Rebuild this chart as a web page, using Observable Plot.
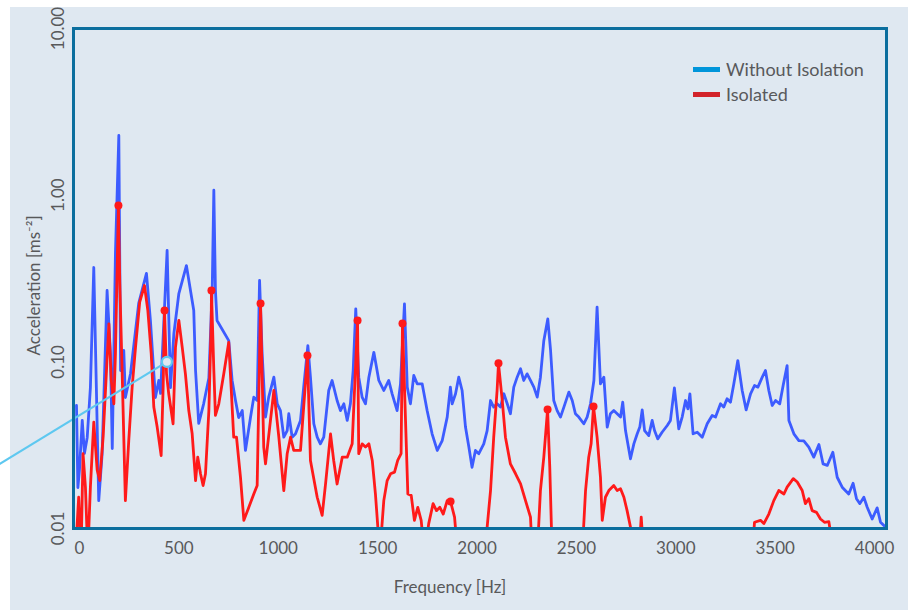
<!DOCTYPE html>
<html>
<head>
<meta charset="utf-8">
<script src="https://cdn.jsdelivr.net/npm/d3@7"></script>
<script src="https://cdn.jsdelivr.net/npm/@observablehq/plot@0.6"></script>
<style>
  html, body { margin: 0; padding: 0; background: #ffffff; }
  #wrap { position: relative; width: 908px; height: 610px; overflow: hidden; }
  #bg { position: absolute; left: 10px; top: 7px; width: 898px; height: 603px; background: #dfe8f1; }
  #chart { position: absolute; left: 0; top: 0; }
  #legend { position: absolute; left: 693px; top: 57px; font-family: Lato, "Open Sans", sans-serif; font-size: 18px; color: #58595b; line-height: 25px; }
  #legend .row { display: flex; align-items: center; }
  #legend .sw { width: 27px; height: 5px; margin-right: 6px; }
</style>
</head>
<body>
<div id="wrap">
  <div id="bg"></div>
  <div id="chart"></div>
  <div id="legend">
    <div class="row"><span class="sw" style="background:#0095da"></span><span>Without Isolation</span></div>
    <div class="row"><span class="sw" style="background:#d2232a"></span><span>Isolated</span></div>
  </div>
</div>
<script>
// ---- Data (frequency in Hz, acceleration in m/s^2) ----
const blueFreq = [-15,-8,0,14,25,39,55,72,85,97,114,139,156,165,181,198,207,223,231,257,298,337,357,382,399,408,441,458,475,500,538,575,584,600,625,651,668,676,684,692,751,768,785,801,819,835,860,877,894,906,919,936,952,978,995,1011,1028,1045,1053,1070,1087,1112,1128,1149,1162,1179,1196,1212,1229,1254,1271,1296,1313,1330,1347,1363,1377,1390,1405,1422,1439,1456,1481,1506,1531,1556,1573,1598,1615,1635,1649,1665,1682,1699,1724,1749,1774,1800,1825,1850,1866,1875,1892,1908,1925,1942,1959,1975,1992,2009,2034,2051,2068,2084,2101,2118,2135,2152,2168,2185,2202,2219,2235,2252,2269,2286,2303,2319,2336,2356,2370,2386,2403,2420,2437,2462,2479,2495,2512,2537,2554,2571,2588,2604,2621,2638,2655,2671,2688,2705,2722,2733,2747,2772,2789,2806,2819,2831,2843,2864,2881,2893,2909,2931,2957,2973,2993,3015,3032,3049,3061,3071,3087,3108,3133,3158,3183,3200,3225,3241,3258,3275,3292,3312,3334,3354,3376,3396,3413,3435,3451,3468,3485,3502,3523,3540,3560,3569,3594,3619,3644,3669,3694,3720,3741,3762,3790,3812,3837,3870,3892,3909,3926,3946,3963,3988,4013,4030,4055];
const blueAcc = [0.0547,0.0176,0.0225,0.0445,0.0282,0.0352,0.07,0.368,0.07,0.0147,0.028,0.268,0.112,0.0302,0.447,2.28,0.0887,0.117,0.0611,0.0851,0.224,0.339,0.177,0.0611,0.0773,0.0646,0.466,0.07,0.148,0.257,0.378,0.203,0.0887,0.0427,0.0562,0.08,0.279,1.07,0.268,0.177,0.134,0.0773,0.0586,0.0463,0.051,0.0294,0.046,0.0614,0.0586,0.308,0.112,0.0466,0.0614,0.0809,0.056,0.051,0.0353,0.0387,0.0488,0.0353,0.037,0.0445,0.0705,0.125,0.0809,0.0425,0.0353,0.0322,0.0353,0.0673,0.0773,0.0586,0.051,0.056,0.0445,0.056,0.0887,0.208,0.0809,0.0614,0.056,0.0809,0.114,0.0773,0.0673,0.0773,0.0643,0.051,0.0738,0.223,0.0705,0.056,0.0828,0.0738,0.0738,0.051,0.037,0.0294,0.0337,0.0466,0.0705,0.056,0.0643,0.0809,0.0673,0.0406,0.0308,0.0233,0.0294,0.0281,0.0322,0.0387,0.0586,0.0535,0.056,0.0535,0.0643,0.056,0.0488,0.0705,0.0809,0.0908,0.0773,0.0847,0.0773,0.0705,0.0614,0.0809,0.134,0.181,0.117,0.0586,0.051,0.0466,0.0535,0.0658,0.0586,0.0488,0.0466,0.0425,0.0466,0.056,0.0773,0.213,0.0738,0.0809,0.0406,0.0488,0.051,0.0488,0.0466,0.0573,0.0387,0.0262,0.0322,0.037,0.0406,0.0515,0.0387,0.0361,0.0445,0.0387,0.0345,0.0378,0.0415,0.0445,0.0698,0.0396,0.0466,0.0586,0.0522,0.0643,0.037,0.0378,0.0353,0.0425,0.0477,0.0466,0.056,0.0535,0.06,0.0573,0.0738,0.1018,0.0673,0.0515,0.0643,0.0721,0.0705,0.0809,0.0887,0.0673,0.0547,0.0586,0.056,0.0721,0.095,0.0445,0.037,0.0337,0.0336,0.0308,0.0268,0.0319,0.0244,0.0239,0.0287,0.0203,0.0177,0.0161,0.0187,0.0151,0.0141,0.0154,0.0134,0.0114,0.0133,0.0109,0.0102];

const redFreq = [-20,-4,8,18,30,42,55,72,89,102,119,136,148,160,173,181,196,203,215,231,248,265,282,303,327,344,361,374,391,411,421,428,438,449,471,483,500,517,533,550,567,584,595,609,622,634,651,663,664,676,684,701,726,751,763,776,790,810,827,852,877,894,911,927,936,978,1003,1028,1045,1062,1078,1112,1147,1162,1196,1221,1238,1263,1279,1296,1322,1347,1372,1399,1405,1422,1439,1456,1473,1489,1511,1531,1548,1565,1585,1601,1618,1625,1652,1669,1685,1702,1719,1736,1757,1779,1796,1813,1830,1850,1867,1887,1903,2040,2051,2068,2084,2101,2108,2127,2143,2168,2194,2219,2244,2269,2278,2303,2319,2336,2355,2366,2378,2529,2546,2562,2574,2586,2604,2621,2630,2646,2663,2688,2705,2722,2739,2755,2772,2780,2815,2826,2839,3384,3396,3426,3443,3468,3493,3518,3544,3560,3591,3611,3636,3652,3669,3686,3708,3728,3748,3770,3795,4060];
const redAcc = [0.007,0.0154,0.007,0.0281,0.0177,0.007,0.0177,0.0434,0.0225,0.0194,0.0353,0.0887,0.169,0.0773,0.056,0.112,0.867,0.294,0.0847,0.0147,0.0337,0.0705,0.122,0.228,0.287,0.203,0.112,0.0535,0.0406,0.0274,0.0705,0.203,0.0847,0.0643,0.0425,0.122,0.177,0.122,0.0847,0.051,0.037,0.0194,0.0268,0.0213,0.0181,0.0213,0.051,0.177,0.268,0.0887,0.0477,0.056,0.0847,0.131,0.0705,0.0353,0.0353,0.0203,0.0112,0.0134,0.0161,0.0181,0.224,0.0308,0.0244,0.0673,0.0353,0.0169,0.0281,0.0353,0.0294,0.0294,0.109,0.0256,0.0154,0.012,0.0185,0.037,0.0256,0.0185,0.0268,0.0268,0.0322,0.177,0.0281,0.0322,0.0308,0.0322,0.0256,0.0161,0.007,0.0147,0.0194,0.0213,0.0218,0.0256,0.0281,0.170,0.0161,0.0158,0.0112,0.0134,0.0112,0.007,0.0107,0.0141,0.0128,0.0134,0.0122,0.0147,0.0145,0.0117,0.007,0.007,0.0102,0.0169,0.0353,0.0673,0.098,0.0586,0.0353,0.0244,0.0213,0.0185,0.0147,0.0117,0.007,0.007,0.0169,0.0268,0.0518,0.0233,0.007,0.007,0.0169,0.0268,0.0322,0.054,0.0353,0.0203,0.0112,0.0154,0.0169,0.0181,0.0169,0.0173,0.0154,0.0128,0.0102,0.007,0.007,0.0117,0.007,0.007,0.0109,0.0112,0.0107,0.0122,0.0147,0.0169,0.0161,0.0177,0.0199,0.019,0.0169,0.0141,0.0151,0.0128,0.0125,0.0114,0.0109,0.011,0.007,0.007];

const peakFreq = [196,428,664,911,1147,1399,1625,1867,2108,2355,2586];
const peakAcc  = [0.867,0.203,0.268,0.224,0.109,0.177,0.170,0.0145,0.098,0.0518,0.054];

const xTicks = [0,500,1000,1500,2000,2500,3000,3500,4000];
const yTicks = [0.01,0.1,1,10];
const yTickLabels = ["0.01","0.10","1.00","10.00"];

const calloutFreq = [-447, 440];
const calloutAcc  = [0.0226, 0.1];

const xTitle = "Frequency [Hz]";
const yTitle = "Acceleration [ms\u207B\u00B2]";

// ---- Build tables ----
const blue = blueFreq.map((f,i) => ({f, a: blueAcc[i]}));
const red = redFreq.map((f,i) => ({f, a: redAcc[i]}));
const peaks = peakFreq.map((f,i) => ({f, a: peakAcc[i]}));
const yt = yTicks.map((v,i) => ({v, label: yTickLabels[i]}));
const callout = [{x1: calloutFreq[0], y1: calloutAcc[0], x2: calloutFreq[1], y2: calloutAcc[1]}];

const font = "Lato, 'Open Sans', sans-serif";
const grey = "#58595b";

const chart = Plot.plot({
  width: 908,
  height: 610,
  marginLeft: 73,
  marginRight: 22,
  marginTop: 28,
  marginBottom: 82,
  style: {background: "transparent", overflow: "visible", fontFamily: font},
  x: {domain: [-30, 4060], axis: null},
  y: {type: "log", domain: [0.01, 10], axis: null},
  marks: [
    Plot.line(blue, {x: "f", y: "a", stroke: "#3d5cff", strokeWidth: 2.8, clip: true, strokeLinejoin: "round"}),
    Plot.line(red, {x: "f", y: "a", stroke: "#ff1a1a", strokeWidth: 2.8, clip: true, strokeLinejoin: "round"}),
    Plot.dot(peaks, {x: "f", y: "a", r: 4, fill: "#ff1a1a"}),
    Plot.link(callout, {x1: "x1", y1: "y1", x2: "x2", y2: "y2", stroke: "#5ec8f0", strokeWidth: 2.2}),
    Plot.dot(callout, {x: "x2", y: "y2", r: 5, stroke: "#5ec8f0", strokeWidth: 2.2, fill: "#dfe8f1"}),
    Plot.frame({stroke: "#0b6e9e", strokeWidth: 3}),
    Plot.text(xTicks, {x: d => d, frameAnchor: "bottom", lineAnchor: "middle", textAnchor: "middle", dy: 20, text: d => String(d), fontSize: 17, fill: grey}),
    Plot.text(yt, {y: "v", frameAnchor: "left", textAnchor: "middle", lineAnchor: "middle", dx: -15, rotate: -90, text: "label", fontSize: 17, fill: grey}),
    Plot.text([xTitle], {frameAnchor: "bottom", lineAnchor: "middle", textAnchor: "middle", dx: -30, dy: 59, text: d => d, fontSize: 17, fill: grey}),
    Plot.text([yTitle], {frameAnchor: "left", textAnchor: "middle", lineAnchor: "middle", dx: -39, dy: 7, rotate: -90, text: d => d, fontSize: 17, fill: grey})
  ]
});
document.getElementById("chart").appendChild(chart);
</script>
</body>
</html>
